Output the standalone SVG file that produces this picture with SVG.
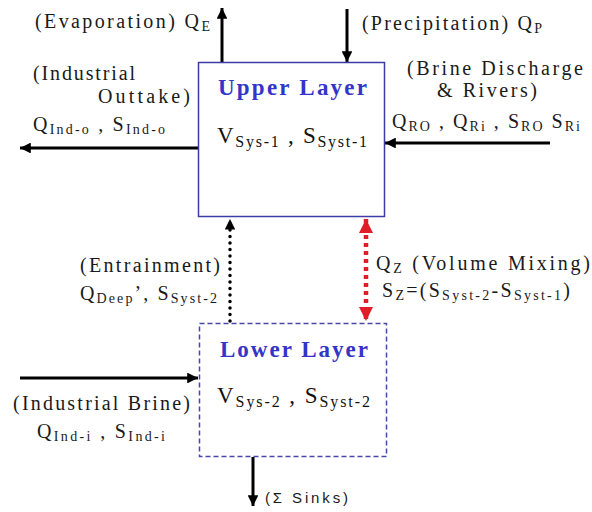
<svg xmlns="http://www.w3.org/2000/svg" width="592" height="512" viewBox="0 0 592 512">
<style>
.t{font-family:'Liberation Serif','Times New Roman',serif;font-size:20px;fill:#1a1a1a}
.s{font-size:14px}
.big{font-family:'Liberation Serif','Times New Roman',serif;font-size:23px;fill:#111}
.bs{font-size:16px}
.title{font-family:'Liberation Serif','Times New Roman',serif;font-size:23px;font-weight:bold;fill:#3434c8}
.sans{font-family:'Liberation Sans',Arial,sans-serif;font-size:15px;fill:#1a1a1a}
.ln{stroke:#000;stroke-width:3;fill:none}
.dot{stroke:#000;stroke-width:3.5;fill:none;stroke-dasharray:0 6.5;stroke-linecap:round}
.red{stroke:#e01e28;stroke-width:4.5;fill:none;stroke-dasharray:4 4}
</style>
<defs>
<marker id="ah" viewBox="0 0 10 10" refX="10" refY="5" markerWidth="4" markerHeight="3.6" orient="auto" markerUnits="strokeWidth">
<path d="M0,0 L10,5 L0,10 z" fill="#000"/>
</marker>
<marker id="ahd" viewBox="0 0 10 10" refX="10" refY="5" markerWidth="3.4" markerHeight="3" orient="auto" markerUnits="strokeWidth">
<path d="M0,0 L10,5 L0,10 z" fill="#000"/>
</marker>
<marker id="ahr" viewBox="0 0 10 10" refX="10" refY="5" markerWidth="3.2" markerHeight="3.4" orient="auto" markerUnits="strokeWidth">
<path d="M0,0 L10,5 L0,10 z" fill="#e01e28"/>
</marker>
<marker id="ahrs" viewBox="0 0 10 10" refX="0" refY="5" markerWidth="3.2" markerHeight="3.4" orient="auto" markerUnits="strokeWidth">
<path d="M10,0 L0,5 L10,10 z" fill="#e01e28"/>
</marker>
</defs>
<rect width="592" height="512" fill="#fff"/>

<g id="connectors">
<line class="ln" x1="222" y1="62" x2="222" y2="8" marker-end="url(#ah)"/>
<line class="ln" x1="347" y1="9" x2="347" y2="62" marker-end="url(#ah)"/>
<line class="ln" x1="198" y1="148" x2="20" y2="148" marker-end="url(#ah)"/>
<line class="ln" x1="550" y1="143" x2="385" y2="143" marker-end="url(#ah)"/>
<line class="dot" x1="230" y1="321" x2="230" y2="219" marker-end="url(#ahd)"/>
<line class="red" x1="366" y1="219" x2="366" y2="321" marker-start="url(#ahrs)" marker-end="url(#ahr)"/>
<line class="ln" x1="20" y1="378" x2="198" y2="378" marker-end="url(#ah)"/>
<line class="ln" x1="253" y1="457" x2="253" y2="506" marker-end="url(#ah)"/>
</g>

<g id="upper-layer">
<rect x="198.5" y="62.5" width="186" height="154" fill="none" stroke="#3c3ca8" stroke-width="1.5"/>
<text class="title" x="218" y="95" textLength="149" lengthAdjust="spacing">Upper Layer</text>
<text class="big" x="217" y="143" textLength="150" lengthAdjust="spacing">V<tspan class="bs" dy="4">Sys-1</tspan><tspan dy="-4"> , S</tspan><tspan class="bs" dy="4">Syst-1</tspan></text>
</g>

<g id="lower-layer">
<rect x="199.5" y="323.5" width="187" height="133" fill="none" stroke="#4848a8" stroke-width="1.5" stroke-dasharray="5 3"/>
<text class="title" x="220" y="357" textLength="148" lengthAdjust="spacing">Lower Layer</text>
<text class="big" x="217" y="403" textLength="153" lengthAdjust="spacing">V<tspan class="bs" dy="4">Sys-2</tspan><tspan dy="-4"> , S</tspan><tspan class="bs" dy="4">Syst-2</tspan></text>
</g>

<g id="evaporation">
<text class="t" x="35" y="28" textLength="175" lengthAdjust="spacing">(Evaporation) Q<tspan class="s" dy="3">E</tspan></text>
</g>
<g id="precipitation">
<text class="t" x="362" y="30" textLength="180" lengthAdjust="spacing">(Precipitation) Q<tspan class="s" dy="3">P</tspan></text>
</g>
<g id="industrial-outtake">
<text class="t" x="33" y="80" textLength="102" lengthAdjust="spacing">(Industrial</text>
<text class="t" x="98" y="103" textLength="92" lengthAdjust="spacing">Outtake)</text>
<text class="t" x="33" y="131" textLength="132" lengthAdjust="spacing">Q<tspan class="s" dy="3">Ind-o</tspan><tspan dy="-3"> , S</tspan><tspan class="s" dy="3">Ind-o</tspan></text>
</g>
<g id="brine-rivers">
<text class="t" x="407" y="75" textLength="176" lengthAdjust="spacing">(Brine Discharge</text>
<text class="t" x="437" y="97" textLength="100" lengthAdjust="spacing">&amp; Rivers)</text>
<text class="t" x="392" y="128" textLength="188" lengthAdjust="spacing">Q<tspan class="s" dy="3">RO</tspan><tspan dy="-3"> , Q</tspan><tspan class="s" dy="3">Ri</tspan><tspan dy="-3"> , S</tspan><tspan class="s" dy="3">RO</tspan><tspan dy="-3"> S</tspan><tspan class="s" dy="3">Ri</tspan></text>
</g>
<g id="entrainment">
<text class="t" x="80" y="272" textLength="140" lengthAdjust="spacing">(Entrainment)</text>
<text class="t" x="80" y="300" textLength="137" lengthAdjust="spacing">Q<tspan class="s" dy="3">Deep</tspan><tspan dy="-3">’, S</tspan><tspan class="s" dy="3">Syst-2</tspan></text>
</g>
<g id="volume-mixing">
<text class="t" x="376" y="270" textLength="214" lengthAdjust="spacing">Q<tspan class="s" dy="3">Z</tspan><tspan dy="-3"> (Volume Mixing)</tspan></text>
<text class="t" x="382" y="297" textLength="188" lengthAdjust="spacing">S<tspan class="s" dy="3">Z</tspan><tspan dy="-3">=(S</tspan><tspan class="s" dy="3">Syst-2</tspan><tspan dy="-3">-S</tspan><tspan class="s" dy="3">Syst-1</tspan><tspan dy="-3">)</tspan></text>
</g>
<g id="industrial-brine">
<text class="t" x="13" y="410" textLength="177" lengthAdjust="spacing">(Industrial Brine)</text>
<text class="t" x="37" y="438" textLength="128" lengthAdjust="spacing">Q<tspan class="s" dy="3">Ind-i</tspan><tspan dy="-3">  , S</tspan><tspan class="s" dy="3">Ind-i</tspan></text>
</g>
<g id="sinks">
<text class="sans" x="265" y="503" textLength="83" lengthAdjust="spacing">(Σ Sinks)</text>
</g>
</svg>
